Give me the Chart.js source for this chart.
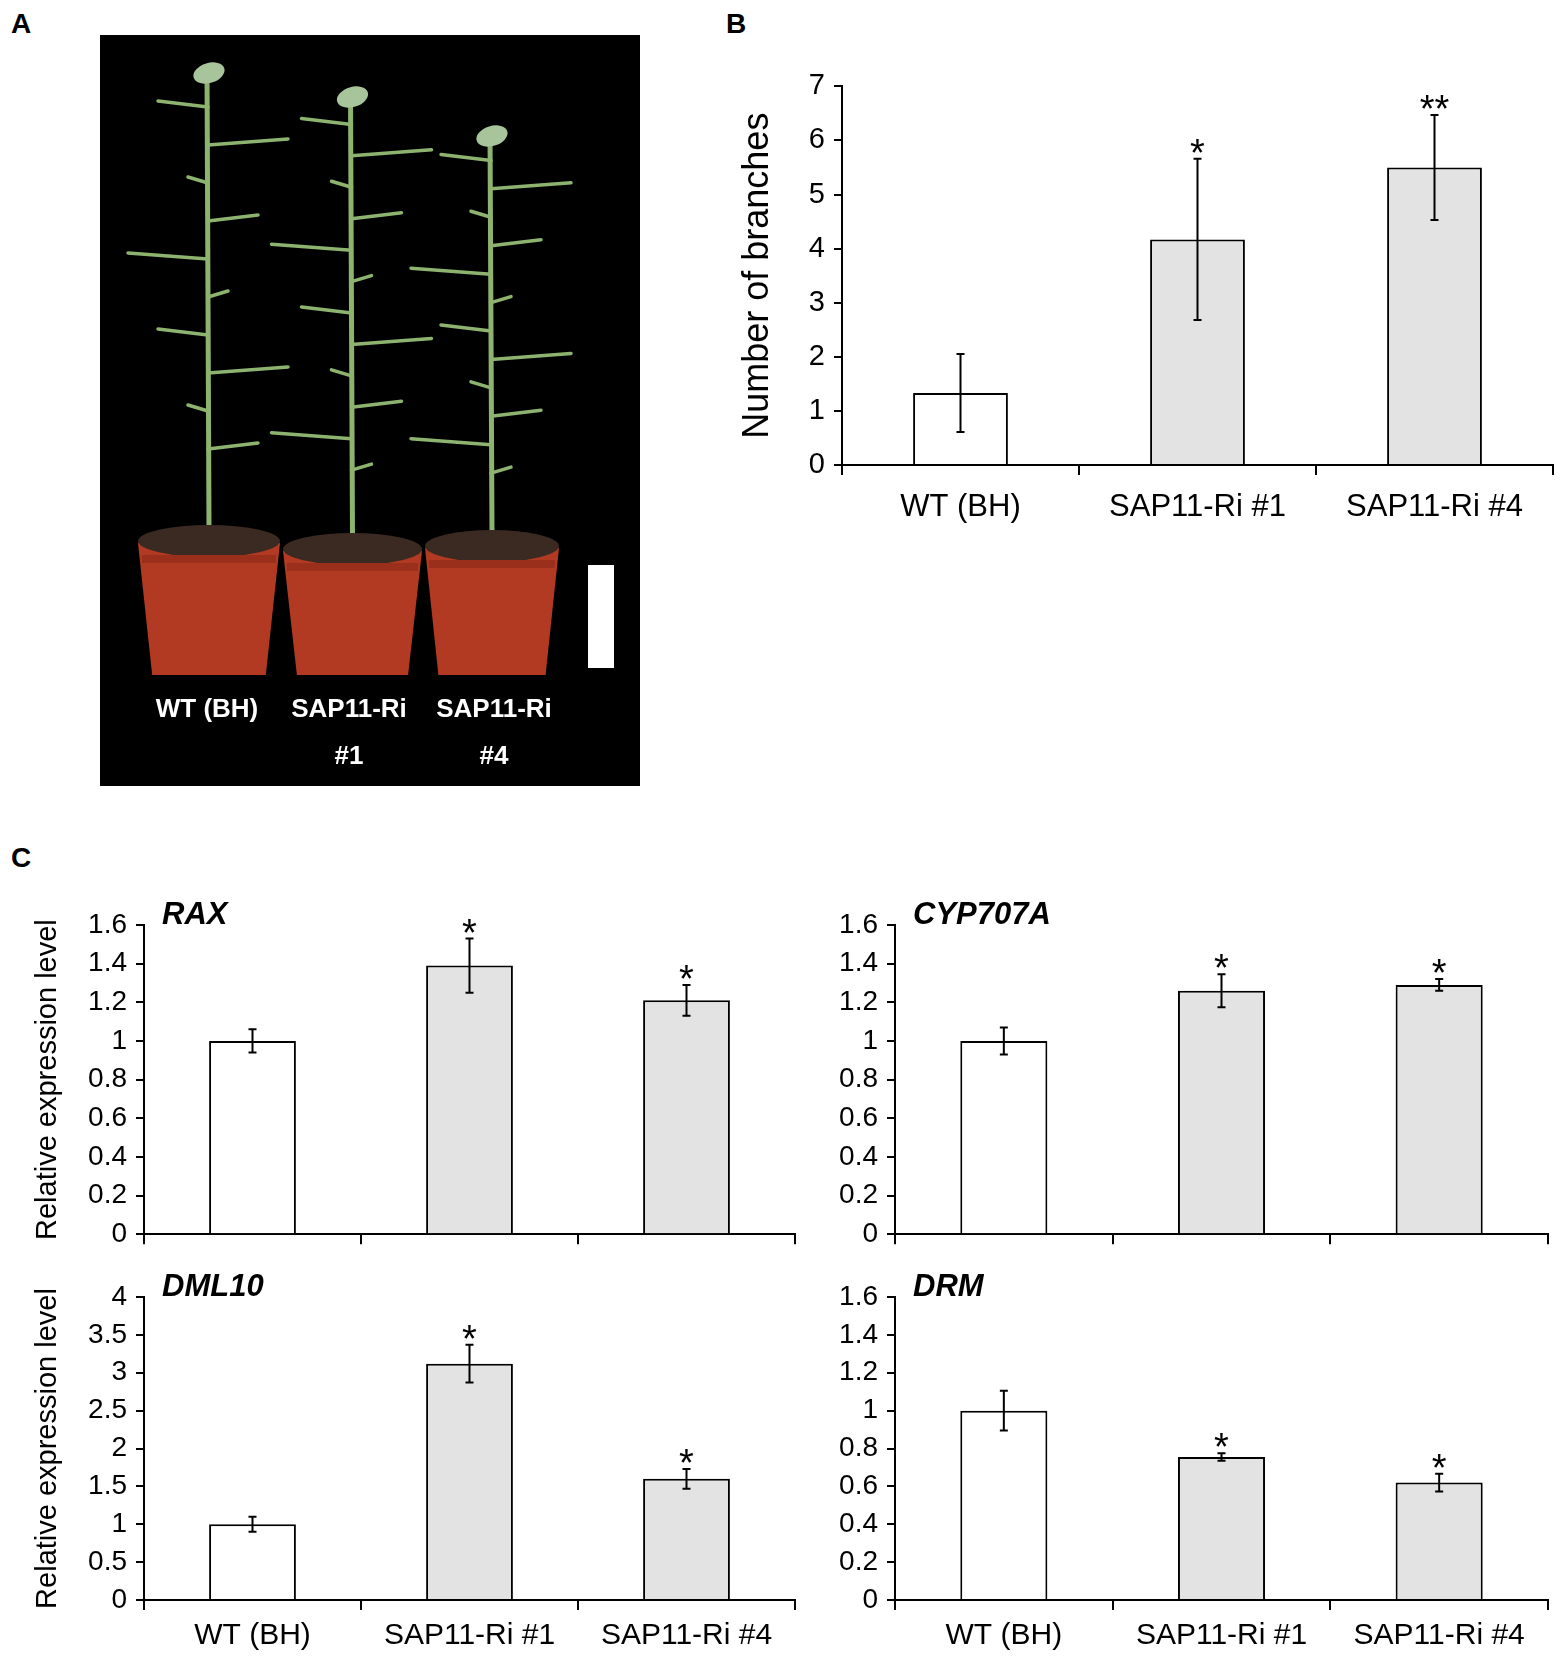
<!DOCTYPE html>
<html>
<head>
<meta charset="utf-8">
<script src="https://cdn.jsdelivr.net/npm/chart.js@4.4.1/dist/chart.umd.min.js"></script>
<style>
  body { margin: 0; background: #fff; }
  #page { position: relative; width: 1562px; height: 1658px; overflow: hidden; font-family: "Liberation Sans", Arial, sans-serif; }
  canvas { position: absolute; }
  .tag { position: absolute; font-weight: bold; font-size: 28px; line-height: 1; color: #000; }
</style>
</head>
<body>
<div id="page">
  <div class="tag" style="left:11px;top:10px">A</div>
  <div class="tag" style="left:726px;top:10px">B</div>
  <div class="tag" style="left:11px;top:844px">C</div>

  <canvas id="photo" width="540" height="751" style="left:100px;top:35px"></canvas>
  <canvas id="chartB" width="862" height="500" style="left:700px;top:60px"></canvas>
  <canvas id="chartRAX" width="800" height="400" style="left:0px;top:860px"></canvas>
  <canvas id="chartCYP" width="782" height="400" style="left:780px;top:860px"></canvas>
  <canvas id="chartDML" width="800" height="398" style="left:0px;top:1260px"></canvas>
  <canvas id="chartDRM" width="782" height="398" style="left:780px;top:1260px"></canvas>
</div>

<script>
// groups shared by every panel
const groups = ['WT (BH)', 'SAP11-Ri #1', 'SAP11-Ri #4'];

// B: number of branches
const branchMean = [1.33, 4.17, 5.5];
const branchErr = [0.72, 1.49, 0.97];
const branchSig = ['', '*', '**'];

// C: relative expression
const raxMean = [1.0, 1.39, 1.21];
const raxErr = [0.06, 0.14, 0.08];
const raxSig = ['', '*', '*'];

const cypMean = [1.0, 1.26, 1.29];
const cypErr = [0.07, 0.085, 0.03];
const cypSig = ['', '*', '*'];

const dmlMean = [1.0, 3.12, 1.6];
const dmlErr = [0.1, 0.25, 0.13];
const dmlSig = ['', '*', '*'];

const drmMean = [1.0, 0.755, 0.62];
const drmErr = [0.105, 0.02, 0.047];
const drmSig = ['', '*', '*'];

const barFill = ['#ffffff', '#e3e3e3', '#e3e3e3'];
const regular = '"Liberation Sans", Arial, sans-serif';

Chart.defaults.color = '#000';
Chart.defaults.font.family = regular;

// error bars + significance stars, positioned through the chart's own scales
const errorBars = {
    id: 'errorBars',
    afterDatasetsDraw(chart, args, opts) {
        const ctx = chart.ctx;
        const meta = chart.getDatasetMeta(0);
        const y = chart.scales.y;
        ctx.save();
        ctx.strokeStyle = '#000';
        ctx.lineWidth = 2;
        meta.data.forEach((bar, i) => {
            const v = opts.mean[i], e = opts.err[i];
            const top = y.getPixelForValue(v + e);
            const bot = y.getPixelForValue(v - e);
            ctx.beginPath();
            ctx.moveTo(bar.x, top); ctx.lineTo(bar.x, bot);
            ctx.moveTo(bar.x - 4, top); ctx.lineTo(bar.x + 4, top);
            ctx.moveTo(bar.x - 4, bot); ctx.lineTo(bar.x + 4, bot);
            ctx.stroke();
            if (opts.sig[i]) {
                ctx.fillStyle = '#000';
                ctx.font = '38px ' + regular;
                ctx.textAlign = 'center';
                ctx.textBaseline = 'alphabetic';
                ctx.fillText(opts.sig[i], bar.x, top + 7);
            }
        });
        if (opts.gene) {
            ctx.font = 'italic bold 31px ' + regular;
            ctx.fillStyle = '#000';
            ctx.textAlign = 'left';
            ctx.textBaseline = 'middle';
            ctx.fillText(opts.gene, chart.chartArea.left + 18, chart.chartArea.top - 10);
        }
        ctx.restore();
    }
};

function makeChart(id, cfg) {
    return new Chart(document.getElementById(id), {
        type: 'bar',
        data: {
            labels: groups,
            datasets: [{
                data: cfg.mean,
                backgroundColor: barFill,
                borderColor: '#000',
                borderWidth: 2,
                categoryPercentage: 0.8,
                barPercentage: 0.5
            }]
        },
        options: {
            responsive: false,
            animation: false,
            devicePixelRatio: 1,
            layout: { padding: { left: 0, right: cfg.padRight, top: cfg.padTop, bottom: 0 } },
            plugins: {
                legend: { display: false },
                tooltip: { enabled: false },
                errorBars: { mean: cfg.mean, err: cfg.err, sig: cfg.sig, gene: cfg.gene }
            },
            scales: {
                x: {
                    afterFit: s => { s.height = cfg.xHeight; },
                    border: { color: '#000', width: 2 },
                    grid: { drawOnChartArea: false, drawTicks: true, tickLength: 10, color: '#000', lineWidth: 2, offset: true },
                    ticks: {
                        display: cfg.showX,
                        padding: cfg.xPad,
                        maxRotation: 0,
                        autoSkip: false,
                        font: { family: regular, size: cfg.xFont },
                        color: '#000'
                    }
                },
                y: {
                    min: 0,
                    max: cfg.yMax,
                    afterFit: s => { s.width = cfg.yWidth; },
                    border: { color: '#000', width: 2 },
                    grid: { drawOnChartArea: false, drawTicks: true, tickLength: 8, color: '#000', lineWidth: 2 },
                    ticks: {
                        stepSize: cfg.yStep,
                        autoSkip: false,
                        padding: 9,
                        font: { family: regular, size: cfg.tickFont },
                        color: '#000',
                        callback: v => String(+v.toFixed(2))
                    },
                    title: {
                        display: !!cfg.yTitle,
                        text: cfg.yTitle || '',
                        color: '#000',
                        font: { family: regular, size: cfg.titleFont, weight: 'normal' },
                        padding: { top: cfg.titlePad || 0, bottom: 0 }
                    }
                }
            }
        },
        plugins: [errorBars]
    });
}

makeChart('chartB', {
    mean: branchMean, err: branchErr, sig: branchSig,
    yMax: 7, yStep: 1, yWidth: 142, xHeight: 95, padTop: 24, padRight: 9,
    showX: true, xPad: 14, xFont: 31, tickFont: 29,
    yTitle: 'Number of branches', titleFont: 36, titlePad: 36
});
makeChart('chartRAX', {
    mean: raxMean, err: raxErr, sig: raxSig, gene: 'RAX',
    yMax: 1.6, yStep: 0.2, yWidth: 144, xHeight: 15, padTop: 65, padRight: 5,
    showX: false, xPad: 0, xFont: 30, tickFont: 28,
    yTitle: 'Relative expression level', titleFont: 29, titlePad: 31
});
makeChart('chartCYP', {
    mean: cypMean, err: cypErr, sig: cypSig, gene: 'CYP707A',
    yMax: 1.6, yStep: 0.2, yWidth: 115, xHeight: 15, padTop: 65, padRight: 14,
    showX: false, xPad: 0, xFont: 30, tickFont: 28
});
makeChart('chartDML', {
    mean: dmlMean, err: dmlErr, sig: dmlSig, gene: 'DML10',
    yMax: 4, yStep: 0.5, yWidth: 144, xHeight: 58, padTop: 37, padRight: 5,
    showX: true, xPad: 8, xFont: 30, tickFont: 28,
    yTitle: 'Relative expression level', titleFont: 29, titlePad: 31
});
makeChart('chartDRM', {
    mean: drmMean, err: drmErr, sig: drmSig, gene: 'DRM',
    yMax: 1.6, yStep: 0.2, yWidth: 115, xHeight: 58, padTop: 37, padRight: 14,
    showX: true, xPad: 8, xFont: 30, tickFont: 28
});

// panel A: a rough sketch standing in for the photograph
(function drawPhoto() {
    const c = document.getElementById('photo');
    const ctx = c.getContext('2d');
    ctx.fillStyle = '#000';
    ctx.fillRect(0, 0, c.width, c.height);

    const plants = [
        { x0: 38, x1: 180, top: 490, stemTop: 34, branches: 10 },
        { x0: 183, x1: 322, top: 498, stemTop: 58, branches: 12 },
        { x0: 325, x1: 459, top: 495, stemTop: 97, branches: 12 }
    ];
    plants.forEach(p => {
        const cx = (p.x0 + p.x1) / 2;
        // stem and side shoots
        ctx.strokeStyle = '#8db36f';
        ctx.lineWidth = 5;
        ctx.lineCap = 'round';
        ctx.beginPath();
        ctx.moveTo(cx, p.top + 5);
        ctx.lineTo(cx - 2, p.stemTop);
        ctx.stroke();
        ctx.lineWidth = 3.5;
        const span = p.top - p.stemTop;
        for (let k = 1; k <= p.branches; k++) {
            const yy = p.stemTop + span * k / (p.branches + 2);
            const dir = k % 2 ? -1 : 1;
            const len = 20 + 30 * (k % 3);
            ctx.beginPath();
            ctx.moveTo(cx - 1, yy);
            ctx.lineTo(cx - 1 + dir * len, yy - 6);
            ctx.stroke();
        }
        ctx.fillStyle = '#a7c49a';
        ctx.beginPath();
        ctx.ellipse(cx, p.stemTop + 4, 16, 10, -0.3, 0, Math.PI * 2);
        ctx.fill();
        // pot
        const w = p.x1 - p.x0;
        ctx.fillStyle = '#b23a22';
        ctx.beginPath();
        ctx.moveTo(p.x0, p.top + 18);
        ctx.lineTo(p.x1, p.top + 18);
        ctx.lineTo(p.x1 - w * 0.1, 640);
        ctx.lineTo(p.x0 + w * 0.1, 640);
        ctx.closePath();
        ctx.fill();
        ctx.fillStyle = '#3a2a22';
        ctx.beginPath();
        ctx.ellipse(cx, p.top + 16, w / 2, 16, 0, 0, Math.PI * 2);
        ctx.fill();
        ctx.fillStyle = '#9a2f1b';
        ctx.fillRect(p.x0 + 4, p.top + 30, w - 8, 8);
    });

    // scale bar
    ctx.fillStyle = '#fff';
    ctx.fillRect(488, 530, 26, 103);

    // line labels
    ctx.font = 'bold 26px ' + regular;
    ctx.textAlign = 'center';
    ctx.textBaseline = 'middle';
    ctx.fillText('WT (BH)', 107, 675);
    ctx.fillText('SAP11-Ri', 249, 675);
    ctx.fillText('SAP11-Ri', 394, 675);
    ctx.fillText('#1', 249, 722);
    ctx.fillText('#4', 394, 722);
})();
</script>
</body>
</html>
